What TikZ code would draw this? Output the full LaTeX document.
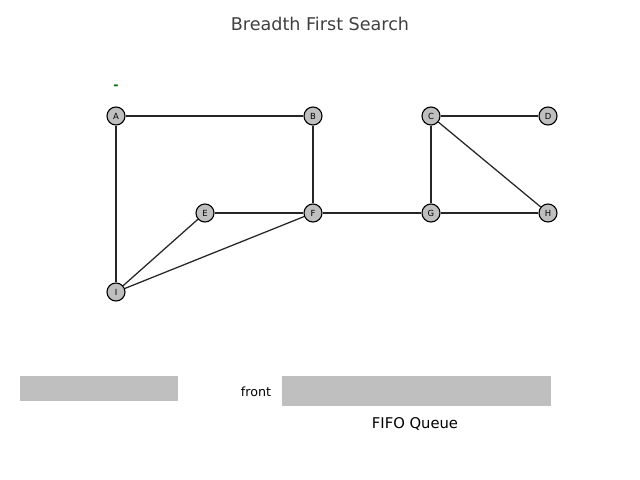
\documentclass[tikz,border=0pt]{standalone}
\usepackage{fontspec}
\setmainfont{DejaVu Sans}
\begin{document}
\begin{tikzpicture}[x=0.025cm,y=-0.025cm,
    vtxsty/.style={circle,draw,line width=0.8pt,fill=black!25,minimum size=0.45cm,inner sep=0pt,font=\fontsize{6}{7}\selectfont},
    edgsty/.style={draw=black!85,line width=0.9pt},
    questy/.style={fill=black!25,draw=none}]
    \useasboundingbox (0,0) rectangle (640,480);
    \node[font=\fontsize{12.5}{14}\selectfont,text=black!75] (title) at (320,24) {Breadth First Search};
    \node[text=green!45!black,font=\bfseries\small] (mark) at (116,87) {-};
    % vertices
    \node[vtxsty] (A) at (116,116) {A};
    \node[vtxsty] (B) at (313,116) {B};
    \node[vtxsty] (C) at (431,116) {C};
    \node[vtxsty] (D) at (548,116) {D};
    \node[vtxsty] (E) at (205,213) {E};
    \node[vtxsty] (F) at (313,213) {F};
    \node[vtxsty] (G) at (431,213) {G};
    \node[vtxsty] (H) at (548,213) {H};
    \node[vtxsty] (I) at (116,292) {I};
    % edges
    \draw[edgsty] (A) -- (B);
    \draw[edgsty] (A) -- (I);
    \draw[edgsty] (B) -- (F);
    \draw[edgsty] (E) -- (F);
    \draw[edgsty] (F) -- (G);
    \draw[edgsty] (G) -- (H);
    \draw[edgsty] (C) -- (D);
    \draw[edgsty] (C) -- (G);
    \draw[edgsty] (C) -- (H);
    \draw[edgsty] (E) -- (I);
    \draw[edgsty] (F) -- (I);
    % queue
    \fill[questy] (20,376) rectangle (178,401);
    \fill[questy] (282,376) rectangle (551,406);
    \node[font=\fontsize{9}{11}\selectfont] (front) at (256,392) {front};
    \node[font=\fontsize{10.5}{12}\selectfont] (fifo) at (415,424) {FIFO Queue};
\end{tikzpicture}
\end{document}
